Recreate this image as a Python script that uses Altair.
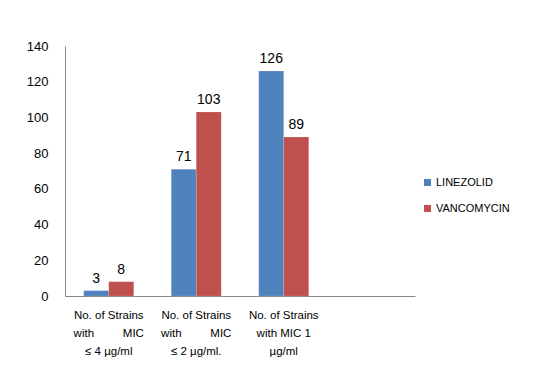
import altair as alt
import pandas as pd

NB = "\u00a0"
categories = ["c1", "c2", "c3", "c4"]
category_labels = {
    "c1": ["No. of Strains", "with" + NB * 9 + "MIC", "≤ 4 µg/ml"],
    "c2": ["No. of Strains", "with" + NB * 9 + "MIC", "≤ 2 µg/ml."],
    "c3": ["No. of Strains", "with MIC 1", "µg/ml"],
    "c4": [""],
}
series = ["LINEZOLID", "VANCOMYCIN"]
linezolid = [3, 71, 126]
vancomycin = [8, 103, 89]
colors = ["#4F81BD", "#C0504D"]

rows = []
for i, c in enumerate(categories[:3]):
    rows.append({"cat": c, "series": series[0], "value": linezolid[i]})
    rows.append({"cat": c, "series": series[1], "value": vancomycin[i]})
df = pd.DataFrame(rows)

label_expr = " : ".join(
    f"datum.value == '{k}' ? {v!r}" for k, v in category_labels.items()
) + " : ''"

font = "Liberation Sans"

x = alt.X(
    "cat:N",
    scale=alt.Scale(domain=categories, paddingInner=0.4286, paddingOuter=0.2143),
    axis=alt.Axis(
        title=None, labelAngle=0, ticks=False, labelExpr=label_expr,
        labelFont=font, labelFontSize=11.5, labelColor="#000000",
        labelLineHeight=18, labelPadding=13, domainColor="#868686",
        labelBaseline="top",
    ),
)
xo = alt.XOffset("series:N", scale=alt.Scale(domain=series, paddingInner=0, paddingOuter=0))
y = alt.Y(
    "value:Q",
    scale=alt.Scale(domain=[0, 140], nice=False),
    axis=alt.Axis(
        title=None, values=[0, 20, 40, 60, 80, 100, 120, 140], ticks=False,
        grid=False, labelFont=font, labelFontSize=13, labelColor="#000000",
        labelPadding=17, domainColor="#868686",
    ),
)

bars = alt.Chart(df).mark_bar(stroke="white", strokeWidth=0.5, strokeOpacity=0.3).encode(
    x=x, xOffset=xo, y=y,
    color=alt.Color(
        "series:N",
        scale=alt.Scale(domain=series, range=colors),
        legend=alt.Legend(
            title=None, orient="none", legendX=357, legendY=131,
            symbolType="square", symbolSize=50, symbolStrokeWidth=0,
            labelFont=font, labelFontSize=11, labelColor="#000000",
            rowPadding=14, labelOffset=3,
        ),
    ),
)

text = alt.Chart(df).mark_text(
    baseline="bottom", dy=-5, font=font, fontSize=14, color="#000000"
).encode(x=x, xOffset=xo, y=y, text="value:Q")

chart = (bars + text).properties(
    width=350, height=250,
    background="white",
    autosize=alt.AutoSizeParams(type="none"),
    padding={"left": 57, "top": 38, "right": 122, "bottom": 78},
).configure_view(stroke=None, strokeWidth=0)

chart.save("out.html", embed_options={"renderer": "svg", "actions": False})
